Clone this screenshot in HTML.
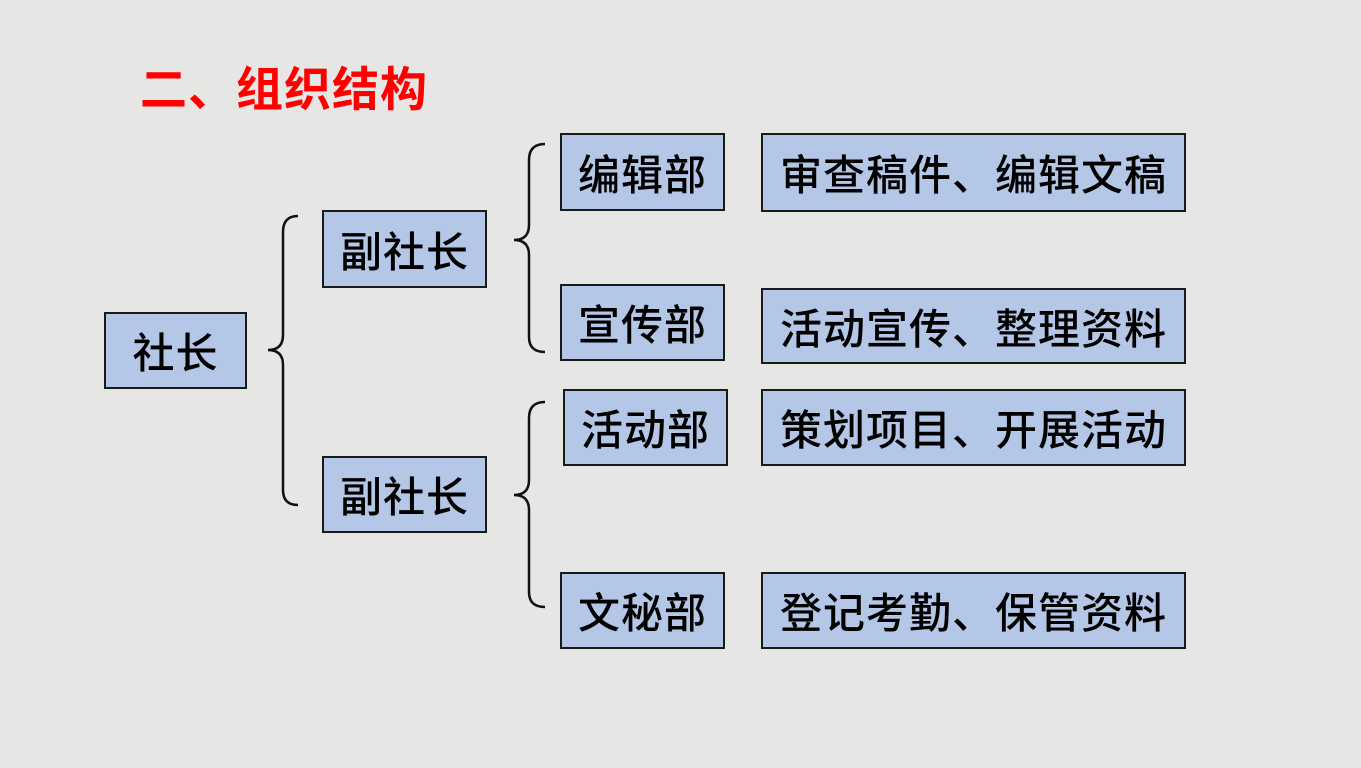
<!DOCTYPE html>
<html><head><meta charset="utf-8"><style>
body{margin:0;width:1361px;height:768px;overflow:hidden;background:#e6e6e5;position:relative;font-family:"Liberation Sans","Noto Sans CJK SC",sans-serif;}
.b{position:absolute;background:#b4c7e7;border:2px solid #1a1a1a;box-sizing:border-box;display:flex;align-items:center;justify-content:center;font-size:42px;font-weight:500;color:#000;letter-spacing:1px;}
.t{position:absolute;left:140px;top:51px;font-size:47px;font-weight:bold;color:#f00;letter-spacing:1px;}
</style></head><body>
<div class="t">二、组织结构</div>
<div class="b" style="left:104px;top:312px;width:143px;height:77px">社长</div>
<div class="b" style="left:322px;top:210px;width:165px;height:78px">副社长</div>
<div class="b" style="left:322px;top:456px;width:165px;height:77px">副社长</div>
<div class="b" style="left:560px;top:133px;width:165px;height:78px">编辑部</div>
<div class="b" style="left:560px;top:284px;width:165px;height:77px">宣传部</div>
<div class="b" style="left:563px;top:389px;width:165px;height:77px">活动部</div>
<div class="b" style="left:560px;top:572px;width:165px;height:77px">文秘部</div>
<div class="b" style="left:761px;top:133px;width:425px;height:79px">审查稿件、编辑文稿</div>
<div class="b" style="left:761px;top:288px;width:425px;height:76px">活动宣传、整理资料</div>
<div class="b" style="left:761px;top:389px;width:425px;height:77px">策划项目、开展活动</div>
<div class="b" style="left:761px;top:572px;width:425px;height:77px">登记考勤、保管资料</div>
<svg width="1361" height="768" style="position:absolute;left:0;top:0" fill="none" stroke="#111" stroke-width="2.5">
<path d="M298 216 Q283 216 283 232 L283 335 Q283 350 268 350 Q283 350 283 365 L283 490 Q283 505 298 505"/>
<path d="M545 144 Q529 144 529 160 L529 225 Q529 240 514 240 Q529 240 529 255 L529 337 Q529 352 545 352"/>
<path d="M545 402 Q529 402 529 418 L529 480 Q529 495 514 495 Q529 495 529 510 L529 592 Q529 607 545 607"/>
</svg>
</body></html>
